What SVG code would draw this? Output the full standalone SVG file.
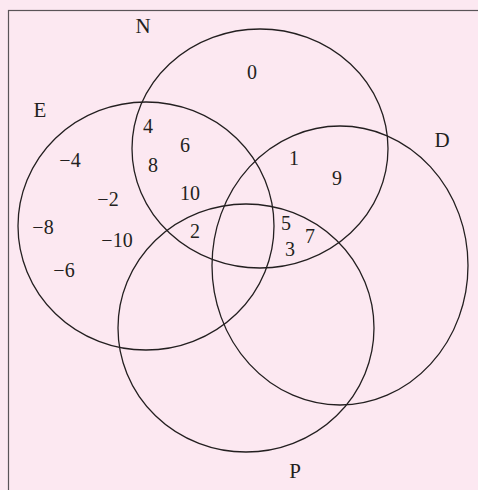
<svg xmlns="http://www.w3.org/2000/svg" width="478" height="490" viewBox="0 0 478 490">
<style>
.set{fill:none;stroke:#231f20;stroke-width:1.3}
text{font-family:"Liberation Serif","Times New Roman",serif;font-size:20px;fill:#231f20;text-anchor:middle}
.lab{font-size:21px}
</style>
<rect x="0" y="0" width="478" height="490" fill="#fce8f1"/>
<rect x="8.5" y="10.5" width="480" height="490" fill="none" stroke="#5a5458" stroke-width="1.2"/>
<g id="sets">
<g id="N"><ellipse class="set" cx="260" cy="148.5" rx="128" ry="119.5"/><text class="lab" x="143" y="33">N</text></g>
<g id="E"><ellipse class="set" cx="146" cy="226" rx="128" ry="124"/><text class="lab" x="40" y="117">E</text></g>
<g id="D"><ellipse class="set" cx="340" cy="265.5" rx="128" ry="139.5"/><text class="lab" x="442" y="147">D</text></g>
<g id="P"><ellipse class="set" cx="246" cy="328" rx="128" ry="124"/><text class="lab" x="295" y="478">P</text></g>
</g>
<g id="elements">
<text x="252" y="79">0</text>
<text x="148" y="133">4</text>
<text x="185" y="152">6</text>
<text x="153" y="172">8</text>
<text x="190" y="200">10</text>
<text x="195" y="238">2</text>
<text x="70" y="167">−4</text>
<text x="108" y="206">−2</text>
<text x="43" y="234">−8</text>
<text x="117" y="247">−10</text>
<text x="64" y="277">−6</text>
<text x="294" y="165">1</text>
<text x="337" y="185">9</text>
<text x="286" y="230">5</text>
<text x="310" y="243">7</text>
<text x="290" y="256">3</text>
</g>
<g id="connectors"/>
</svg>
